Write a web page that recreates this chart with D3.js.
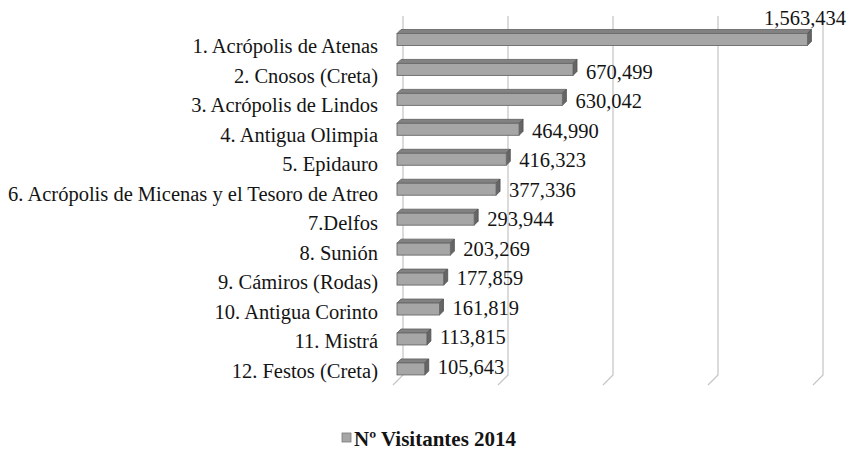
<!DOCTYPE html>
<html>
<head>
<meta charset="utf-8">
<script src="https://cdn.jsdelivr.net/npm/d3@7"></script>
<style>
  html, body { margin: 0; padding: 0; background: #ffffff; }
  svg { display: block; }
</style>
</head>
<body>
<svg id="chart" width="851" height="451"></svg>
<script>
const categories = [
  "1. Acrópolis de Atenas",
  "2. Cnosos (Creta)",
  "3. Acrópolis de Lindos",
  "4. Antigua Olimpia",
  "5. Epidauro",
  "6. Acrópolis de Micenas y el Tesoro de Atreo",
  "7.Delfos",
  "8. Sunión",
  "9. Cámiros (Rodas)",
  "10. Antigua Corinto",
  "11. Mistrá",
  "12. Festos (Creta)"
];
const values = [1563434, 670499, 630042, 464990, 416323, 377336, 293944, 203269, 177859, 161819, 113815, 105643];
const gridTicks = [0, 400000, 800000, 1200000, 1600000];
const seriesName = "Nº Visitantes 2014";

const FONT = '"Liberation Serif"';
const TEXT = "#141414";
const svg = d3.select("#chart");
const fmt = d3.format(",");

// geometry
const depthX = 10, depthY = 10;      // floor depth
const barDX = 4, barDY = 4;          // bar depth
const xFront0 = 393;                 // value 0 on floor front edge
const plotTop = 16, floorBack = 375;

const x = d3.scaleLinear().domain([0, 1600000]).range([0, 420]);
const y = d3.scaleBand().domain(categories).range([24.5, 383.9]).paddingInner(0.6).paddingOuter(0.3);
// labels sit on the front plane of the 3D floor (slightly different projection)
const yLab = d3.scalePoint().domain(categories).range([53, 378]);

// gridlines: back wall vertical + diagonal across the floor
const grid = svg.append("g");
gridTicks.forEach(t => {
  const xb = xFront0 + depthX + x(t);
  grid.append("path")
    .attr("d", `M${xb},${plotTop} L${xb},${floorBack} L${xb - depthX},${floorBack + depthY}`)
    .attr("fill", "none")
    .attr("stroke", "#c4c4c4")
    .attr("stroke-width", 1.2);
});

// 3D bars
const barX0 = xFront0 + 4;
const bars = svg.append("g");
categories.forEach((c, i) => {
  const v = values[i];
  const y0 = y(c), h = y.bandwidth();
  const x1 = barX0 + x(v);
  const g = bars.append("g");
  g.append("path")
    .attr("d", `M${barX0},${y0} L${barX0 + barDX},${y0 - barDY} L${x1 + barDX},${y0 - barDY} L${x1},${y0} Z`)
    .attr("fill", "#828282").attr("stroke", "#5e5e5e").attr("stroke-width", 0.8);
  g.append("path")
    .attr("d", `M${x1},${y0} L${x1 + barDX},${y0 - barDY} L${x1 + barDX},${y0 + h - barDY} L${x1},${y0 + h} Z`)
    .attr("fill", "#666666").attr("stroke", "#4e4e4e").attr("stroke-width", 0.8);
  g.append("rect")
    .attr("x", barX0).attr("y", y0)
    .attr("width", x(v)).attr("height", h)
    .attr("fill", "#a6a6a6").attr("stroke", "#6a6a6a").attr("stroke-width", 0.9);
});

// category labels
svg.append("g").selectAll("text").data(categories).join("text")
  .attr("x", 378)
  .attr("y", d => yLab(d))
  .attr("text-anchor", "end")
  .attr("font-size", 20.5)
  .style("font-family", FONT)
  .style("fill", TEXT)
  .text(d => d);

// value labels
svg.append("g").selectAll("text").data(values).join("text")
  .attr("x", (d, i) => i === 0 ? 846 : barX0 + x(d) + 13)
  .attr("y", (d, i) => i === 0 ? 25 : yLab(categories[i]) - 4)
  .attr("text-anchor", (d, i) => i === 0 ? "end" : "start")
  .attr("font-size", 20.5)
  .style("font-family", FONT)
  .style("fill", TEXT)
  .text(d => fmt(d));

// legend
const lg = svg.append("g");
lg.append("rect").attr("x", 342).attr("y", 433).attr("width", 9).attr("height", 9)
  .attr("fill", "#a6a6a6").attr("stroke", "#7a7a7a").attr("stroke-width", 0.8);
lg.append("text").attr("x", 354).attr("y", 446)
  .attr("font-size", 21).attr("font-weight", "bold")
  .style("font-family", FONT)
  .style("fill", TEXT)
  .text(seriesName);
</script>
</body>
</html>
